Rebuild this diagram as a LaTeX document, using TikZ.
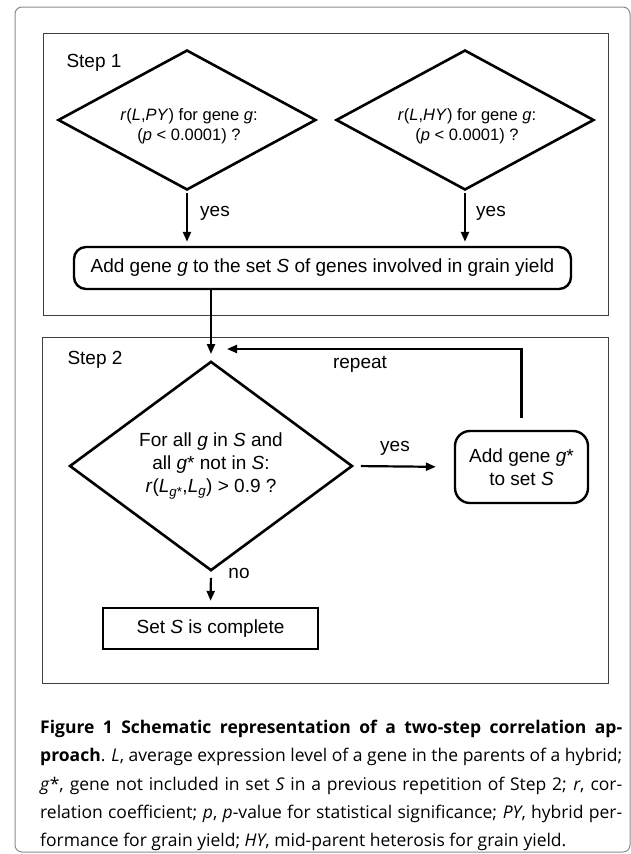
\documentclass[tikz,border=0pt]{standalone}
\usepackage{fontspec}
\setmainfont{Liberation Sans}
\newfontfamily\capfont{Open Sans}
\usetikzlibrary{shapes.geometric,arrows.meta}
\begin{document}
\begin{tikzpicture}[x=1pt,y=-1pt,
  frame/.style={draw=black!75, line width=1.3pt},
  dia/.style={diamond, draw, line width=2.6pt, inner sep=0pt, align=center},
  rbox/.style={draw, line width=2.4pt, align=center, inner sep=0pt},
  arr/.style={-{Triangle[length=10pt,width=8pt]}, line width=2.2pt},
  big/.style={font=\fontsize{19}{23}\selectfont},
  small/.style={font=\fontsize{16.5}{20}\selectfont},
  diatext/.style={small, align=center, inner sep=0pt}
]
\useasboundingbox (0,0) rectangle (631,854);
\draw[black!45, line width=1pt, rounded corners=7pt] (15,7) rectangle (630,852);

% step frames
\node[frame, anchor=north west, minimum width=565pt, minimum height=282pt, inner sep=0pt] (s1) at (43,33) {};
\node[frame, anchor=north west, minimum width=566pt, minimum height=346pt, inner sep=0pt] (s2) at (42,337) {};
\node[big] (s1lbl) at (94,63) {Step 1};
\node[big] (s2lbl) at (95,360) {Step 2};

% step 1
\node[dia, minimum width=258pt, minimum height=140pt] (d1) at (187,120) {};
\node[diatext] (d1t) at (189,126)
  {\textit{r}(\textit{L},\textit{PY}) for gene \textit{g}:\\(\textit{p} < 0.0001) ?};
\node[dia, minimum width=258pt, minimum height=140pt] (d2) at (465,120) {};
\node[diatext] (d2t) at (467,126)
  {\textit{r}(\textit{L},\textit{HY}) for gene \textit{g}:\\(\textit{p} < 0.0001) ?};
\node[rbox, big, rounded corners=12pt, minimum width=497pt, minimum height=42pt] (b1) at (322.5,268)
  {Add gene \textit{g} to the set \textit{S} of genes involved in grain yield};
\draw[arr, shorten <=2pt, shorten >=4pt] (d1.south) -- (d1.south |- b1.north);
\draw[arr, shorten <=2pt, shorten >=4pt] (d2.south) -- (d2.south |- b1.north);
\node[big] (y1) at (215,213) {yes};
\node[big] (y2) at (491,213) {yes};

% step 2
\node[dia, big, minimum width=283pt, minimum height=160pt] (d3) at (211,466)
  {For all \textit{g} in \textit{S} and\\all \textit{g}* not in \textit{S}:\\\textit{r}(\textit{L}\textsubscript{\textit{g}*},\textit{L}\textsubscript{\textit{g}}) > 0.9 ?};
\node[rbox, big, rounded corners=15pt, minimum width=133pt, minimum height=72pt] (b2) at (521.5,467)
  {Add gene \textit{g}*\\to set \textit{S}};
\node[rbox, big, minimum width=215pt, minimum height=41pt] (b3) at (210.5,628.5)
  {Set \textit{S} is complete};

\draw[arr, shorten >=6pt] (b1.south -| d3.north) -- (d3.north);
\draw[arr, shorten <=7pt, shorten >=18pt] (d3.east) -- (b2.west);
\node[big] (y3) at (395,448) {yes};
\coordinate (rpc) at (521.5,349);
\coordinate (rpend) at (227,349);
\draw[arr, shorten <=12pt] (b2.north) -- (rpc) -- (rpend);
\node[big] (rp) at (360,364) {repeat};
\draw[arr, shorten <=6pt, shorten >=6pt] (d3.south) -- (b3.north);
\node[big] (no) at (239,573) {no};

% caption
\node[anchor=north west, inner sep=0pt, text width=582pt, align=justify,
      font=\capfont\fontsize{17.5}{28.3}\selectfont] (cap) at (40,720)
  {\textbf{Figure 1 Schematic representation of a two-step correlation ap-\linebreak proach}. \textit{L}, average expression level of a gene in the parents of a hybrid;\linebreak \textit{g}*, gene not included in set \textit{S} in a previous repetition of Step 2; \textit{r}, cor-\linebreak relation coefficient; \textit{p}, \textit{p}-value for statistical significance; \textit{PY}, hybrid per-\linebreak formance for grain yield; \textit{HY}, mid-parent heterosis for grain yield.};
\end{tikzpicture}
\end{document}
